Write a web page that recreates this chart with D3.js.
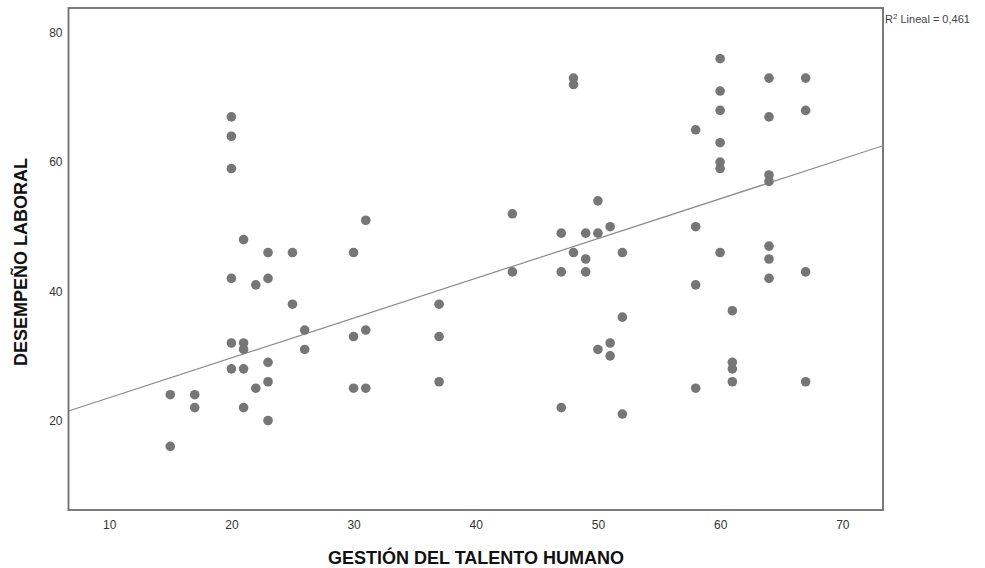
<!DOCTYPE html>
<html>
<head>
<meta charset="utf-8">
<script src="https://cdn.jsdelivr.net/npm/d3@7"></script>
<style>
  html, body { margin: 0; padding: 0; background: #fff; }
  svg { display: block; }
  text { font-family: "Liberation Sans", Arial, sans-serif; }
</style>
</head>
<body>
<svg id="chart" width="985" height="568"></svg>
<script>
// Data: GESTIÓN DEL TALENTO HUMANO (x) vs DESEMPEÑO LABORAL (y)
const xValues = [15,15,17,17,20,20,20,20,20,20,21,21,21,21,21,22,22,23,23,23,23,23,25,25,26,26,
  30,30,30,31,31,31,37,37,37,43,43,47,47,47,48,48,48,49,49,49,50,50,50,51,51,51,52,52,52,
  58,58,58,58,60,60,60,60,60,60,60,61,61,61,61,64,64,64,64,64,64,64,67,67,67,67];
const yValues = [24,16,24,22,67,64,59,42,32,28,48,32,31,28,22,41,25,46,42,29,26,20,46,38,34,31,
  46,33,25,51,34,25,38,33,26,52,43,49,43,22,73,72,46,49,45,43,54,49,31,50,32,30,46,36,21,
  65,50,41,25,76,71,68,63,60,59,46,37,29,28,26,73,67,58,57,47,45,42,73,68,43,26];
const xTicks = [10, 20, 30, 40, 50, 60, 70];
const yTicks = [20, 40, 60, 80];
const fitIntercept = 17.36;
const fitSlope = 0.616;
const r2Label = "0,461";
const xTitle = "GESTIÓN DEL TALENTO HUMANO";
const yTitle = "DESEMPEÑO LABORAL";

const points = xValues.map((x, i) => ({ x, y: yValues[i] }));

const svg = d3.select("#chart");
const plot = { left: 68.5, right: 883, top: 8, bottom: 510 };

const x = d3.scaleLinear().domain([6.67, 73.33]).range([plot.left, plot.right]);
const y = d3.scaleLinear().domain([6.15, 83.85]).range([plot.bottom, plot.top]);

// Frame
svg.append("rect")
  .attr("x", plot.left).attr("y", plot.top)
  .attr("width", plot.right - plot.left).attr("height", plot.bottom - plot.top)
  .attr("fill", "#fff").attr("stroke", "#6e6e6e").attr("stroke-width", 1.8);

// Axes (labels only, no tick marks)
const xAxis = d3.axisBottom(x).tickValues(xTicks).tickSize(0).tickPadding(10);
const gx = svg.append("g").attr("transform", `translate(0,${plot.bottom})`).call(xAxis);
gx.select(".domain").remove();
gx.selectAll("text").attr("font-size", 12).attr("fill", "#333")
  .attr("font-family", "'Liberation Sans', Arial, sans-serif");

const yAxis = d3.axisLeft(y).tickValues(yTicks).tickSize(0).tickPadding(6);
const gy = svg.append("g").attr("transform", `translate(${plot.left},0)`).call(yAxis);
gy.select(".domain").remove();
gy.selectAll("text").attr("font-size", 12).attr("fill", "#333")
  .attr("font-family", "'Liberation Sans', Arial, sans-serif");

// Fit line
const clip = svg.append("clipPath").attr("id", "plotclip").append("rect")
  .attr("x", plot.left).attr("y", plot.top)
  .attr("width", plot.right - plot.left).attr("height", plot.bottom - plot.top);
const [x0, x1] = x.domain();
svg.append("line")
  .attr("clip-path", "url(#plotclip)")
  .attr("x1", x(x0)).attr("y1", y(fitIntercept + fitSlope * x0))
  .attr("x2", x(x1)).attr("y2", y(fitIntercept + fitSlope * x1))
  .attr("stroke", "#8a8a8a").attr("stroke-width", 1.2);

// Points
svg.append("g").selectAll("circle").data(points).join("circle")
  .attr("cx", d => x(d.x)).attr("cy", d => y(d.y))
  .attr("r", 4.8).attr("fill", "#767676");

// R² label
const r2 = svg.append("text").attr("x", plot.right + 2).attr("y", 23)
  .attr("font-size", 11).attr("fill", "#444");
r2.append("tspan").text("R");
r2.append("tspan").attr("font-size", 8).attr("dy", -4).text("2");
r2.append("tspan").attr("dy", 4).text(" Lineal = " + r2Label);

// Axis titles
svg.append("text").attr("x", 476).attr("y", 564)
  .attr("text-anchor", "middle").attr("font-size", 18).attr("font-weight", "bold")
  .attr("fill", "#111").text(xTitle);
svg.append("text").attr("transform", "translate(27,262) rotate(-90)")
  .attr("text-anchor", "middle").attr("font-size", 18).attr("font-weight", "bold")
  .attr("fill", "#111").text(yTitle);
</script>
</body>
</html>
